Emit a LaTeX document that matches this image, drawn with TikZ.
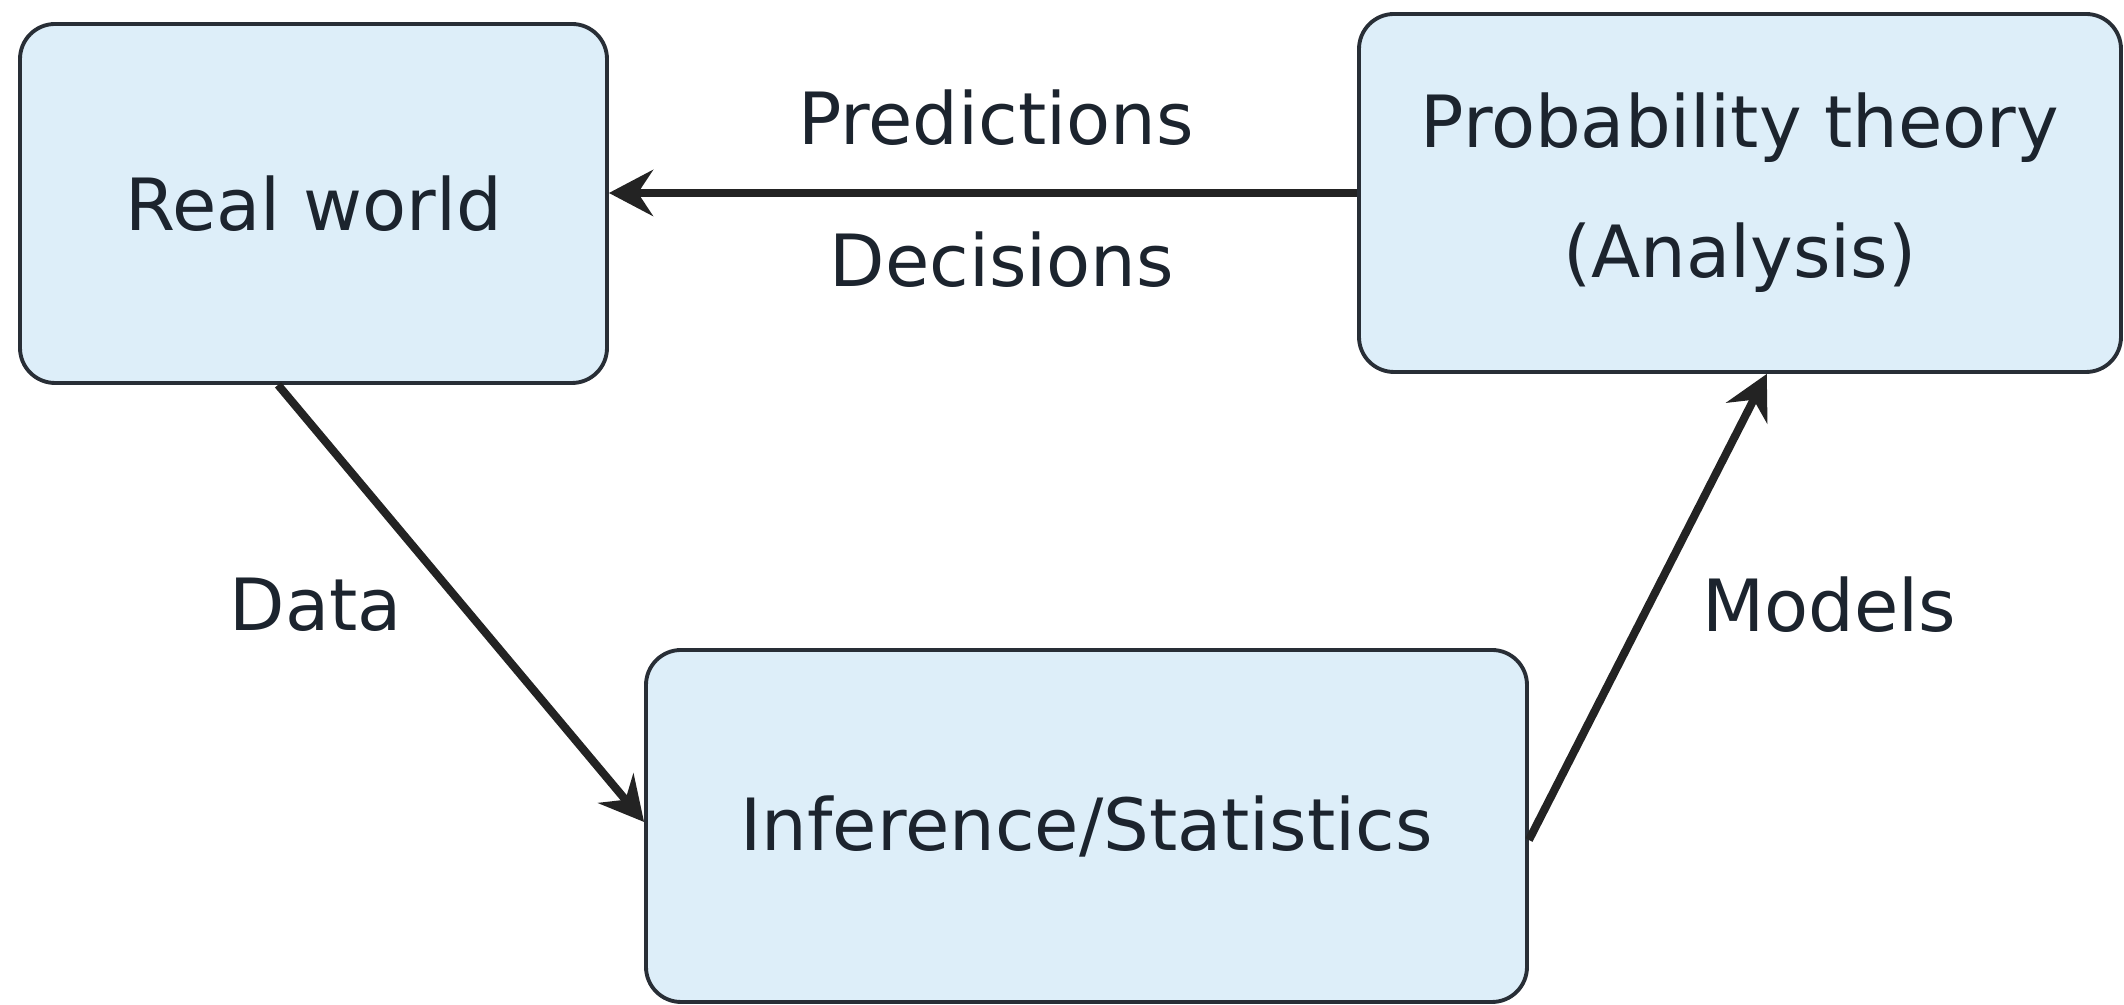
\documentclass[tikz,border=0pt]{standalone}
\usepackage{fontspec}
\setmainfont{DejaVu Sans}
\usetikzlibrary{arrows.meta,calc}
\definecolor{boxfill}{RGB}{221,238,249}
\definecolor{boxline}{RGB}{40,46,54}
\definecolor{txt}{RGB}{28,36,46}
\definecolor{arr}{RGB}{35,35,35}
\begin{document}
\begin{tikzpicture}[x=0.1mm,y=-0.1mm,
  box/.style={draw=boxline, line width=1.1pt, fill=boxfill, rounded corners=3.5mm,
    inner sep=0pt, text=txt, align=center,
    font=\fontsize{20.5}{37}\selectfont},
  lab/.style={text=txt, inner sep=0pt, font=\fontsize{20.5}{24}\selectfont},
  conn/.style={draw=arr, line width=2.3pt,
    -{Stealth[length=4.4mm,width=4.6mm,inset=1.5mm]}}]
\useasboundingbox (0,0) rectangle (2124,1005);
\node[box, minimum width=58.7mm, minimum height=35.9mm] (real) at (313.5,203.5) {Real world};
\node[box, minimum width=76.2mm, minimum height=35.8mm] (prob) at (1740,193) {Probability theory\\(Analysis)};
\node[box, minimum width=88.1mm, minimum height=35.2mm] (inf) at (1086.5,826) {Inference/Statistics};
\node[lab] (pred) at (996,118) {Predictions};
\node[lab] (dec) at (1002,260) {Decisions};
\node[lab] (data) at (316,605) {Data};
\node[lab] (models) at (1829,605) {Models};
\draw[conn] (prob.west) -- (real.east |- prob.west);
\draw[conn] ($(real.south west)!0.44!(real.south east)$) -- ($(inf.west)+(0,-4)$);
\draw[conn] ($(inf.east)+(0,14)$) -- ($(prob.south west)!0.535!(prob.south east)$);
\end{tikzpicture}
\end{document}
